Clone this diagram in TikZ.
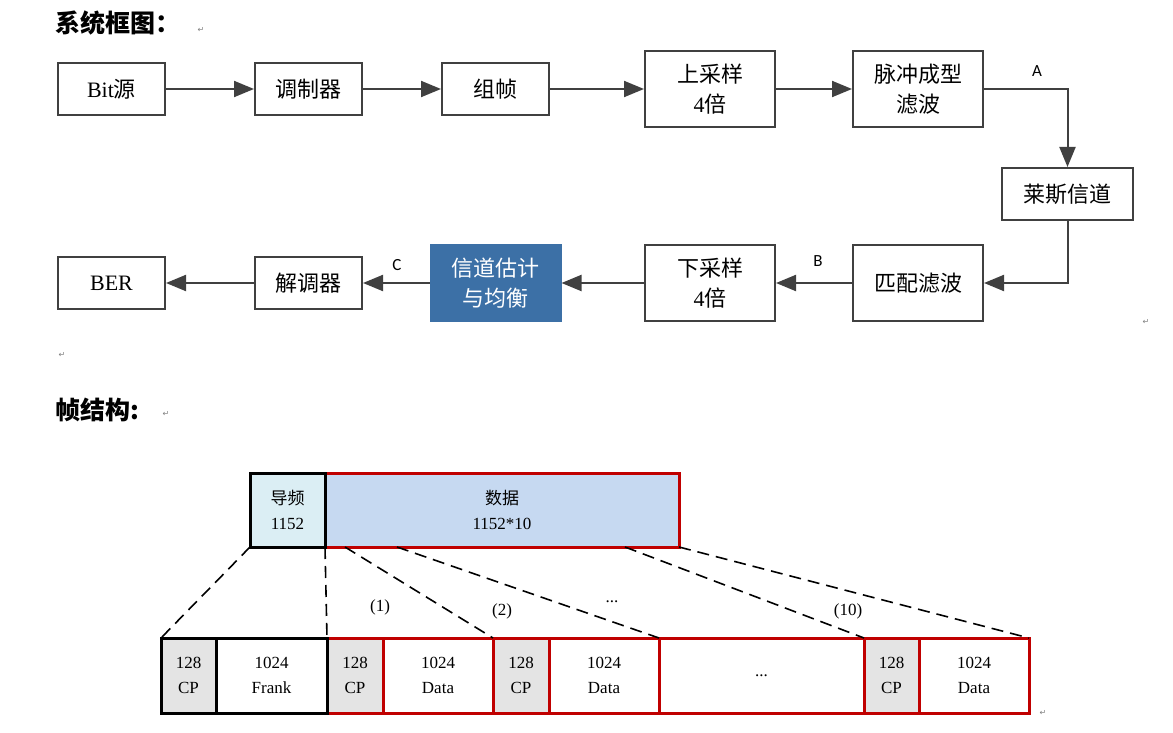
\documentclass[tikz,border=0pt]{standalone}
\usepackage{fontspec}
\setmainfont{Liberation Serif}
\newfontfamily\cjk{Noto Sans CJK SC}
\newfontfamily\lab{Carlito}
\newfontfamily\parafont{DejaVu Sans}
\usetikzlibrary{arrows.meta,positioning}

\definecolor{boxGray}{HTML}{404040}
\definecolor{estBlue}{HTML}{3C70A6}
\definecolor{pilotCyan}{HTML}{DBEEF4}
\definecolor{dataBlue}{HTML}{C6D9F1}
\definecolor{cpGray}{HTML}{E4E4E4}
\definecolor{frameRed}{HTML}{C00000}

\tikzstyle{block} = [rectangle, draw=boxGray, line width=2pt, minimum width=107pt, minimum height=52pt, inner sep=0pt, font={\fontsize{22}{30}\selectfont}, align=center]
\tikzstyle{tallBlock} = [block, minimum width=130pt, minimum height=76pt]
\tikzstyle{flow} = [draw=boxGray, line width=2pt, -{Triangle[length=20pt,width=16pt]}]
\tikzstyle{tag} = [font={\lab\fontsize{17}{18}\selectfont}]
\tikzstyle{cell} = [rectangle, draw, line width=3pt, minimum height=75pt, inner sep=0pt, outer sep=0pt, font={\fontsize{17}{25}\selectfont}, align=center]
\tikzstyle{redCell} = [cell, draw=frameRed]
\tikzstyle{blackCell} = [cell, draw=black]
\tikzstyle{split} = [line width=1.6pt, dash pattern=on 12pt off 7pt]
\tikzstyle{note} = [font={\fontsize{17}{20}\selectfont}]
\tikzstyle{para} = [text=gray, font={\parafont\fontsize{8}{8}\selectfont}]

\begin{document}
\begin{tikzpicture}[x=1pt,y=1pt]
            \useasboundingbox (0,0) rectangle (1173,-733);
            % titles
            \node[anchor=west, font={\cjk\bfseries\fontsize{25}{27}\selectfont}] (title1) at (52,-23) {系统框图：};
            \node[anchor=west, font={\cjk\bfseries\fontsize{25}{27}\selectfont}] (title2) at (52,-410) {帧结构\textbf{:}};
            % system chain
            \node[block] (src) at (111.5,-89) {Bit{\cjk 源}};
            \node[block, right of=src, node distance=197pt] (mod) {{\cjk 调制器}};
            \node[block, right of=mod, node distance=187pt] (frm) {{\cjk 组帧}};
            \node[tallBlock, right of=frm, node distance=214.5pt] (up) {{\cjk 上采样}\\4{\cjk 倍}};
            \node[tallBlock, right of=up, node distance=208pt] (pulse) {{\cjk 脉冲成型}\\{\cjk 滤波}};
            \node[block, minimum width=131pt] (rice) at (1067.5,-194) {{\cjk 莱斯信道}};
            \node[tallBlock, below of=pulse, node distance=194pt] (match) {{\cjk 匹配滤波}};
            \node[tallBlock, left of=match, node distance=208pt] (down) {{\cjk 下采样}\\4{\cjk 倍}};
            \node[tallBlock, left of=down, node distance=214.5pt, fill=estBlue, draw=estBlue, text=white] (est) {{\cjk 信道估计}\\{\cjk 与均衡}};
            \node[block, left of=est, node distance=187pt] (demod) {{\cjk 解调器}};
            \node[block, left of=demod, node distance=197pt] (ber) {BER};
            \draw[flow] (src) -- (mod);
            \draw[flow] (mod) -- (frm);
            \draw[flow] (frm) -- (up);
            \draw[flow] (up) -- (pulse);
            \draw[flow] (pulse.east) -| (rice.north);
            \draw[flow] (rice.south) |- (match.east);
            \draw[flow] (match) -- (down);
            \draw[flow] (down) -- (est);
            \draw[flow] (est) -- (demod);
            \draw[flow] (demod) -- (ber);
            \node[tag] (tagA) at (1037,-71) {A};
            \node[tag] (tagB) at (818,-261) {B};
            \node[tag] (tagC) at (397,-265) {C};
            % frame structure
            \node[redCell, fill=dataBlue, minimum width=354pt, minimum height=74pt] (data) at (502,-510) {{\cjk 数据}\\1152*10};
            \node[blackCell, fill=pilotCyan, minimum width=75pt, minimum height=74pt] (pilot) at (287.5,-510) {{\cjk 导频}\\1152};
            \node[blackCell, fill=cpGray, minimum width=55pt] (cp0) at (188.5,-675.5) {128\\CP};
            \node[redCell, fill=cpGray, minimum width=56pt, right=0pt of cp0, xshift=111pt] (cp1) {128\\CP};
            \node[redCell, minimum width=110pt, right=0pt of cp1] (data1) {1024\\Data};
            \node[redCell, fill=cpGray, minimum width=56pt, right=0pt of data1] (cp2) {128\\CP};
            \node[redCell, minimum width=110pt, right=0pt of cp2] (data2) {1024\\Data};
            \node[redCell, minimum width=205pt, right=0pt of data2] (gap) {...};
            \node[redCell, fill=cpGray, minimum width=55pt, right=0pt of gap] (cp10) {128\\CP};
            \node[redCell, minimum width=110pt, right=0pt of cp10] (data10) {1024\\Data};
            \node[blackCell, minimum width=111pt, right=0pt of cp0] (frank) {1024\\Frank};
            \draw[split] (pilot.south west) -- (cp0.north west);
            \draw[split] (pilot.south east) -- (frank.north east);
            \draw[split] ([xshift=20pt]data.south west) -- (data1.north east);
            \draw[split] ([xshift=72pt]data.south west) -- (data2.north east);
            \draw[split] ([xshift=300pt]data.south west) -- (cp10.north west);
            \draw[split] (data.south east) -- (data10.north east);
            \node[note] (n1) at (380,-607) {(1)};
            \node[note] (n2) at (502,-611) {(2)};
            \node[note] (n3) at (612,-602) {...};
            \node[note] (n10) at (848,-611) {(10)};
            % paragraph marks
            \node[para] (p1) at (201,-30) {↵};
            \node[para] (p2) at (1146,-322) {↵};
            \node[para] (p3) at (62,-355) {↵};
            \node[para] (p4) at (166,-414) {↵};
            \node[para] (p5) at (1043,-713) {↵};
        \end{tikzpicture}
\end{document}
